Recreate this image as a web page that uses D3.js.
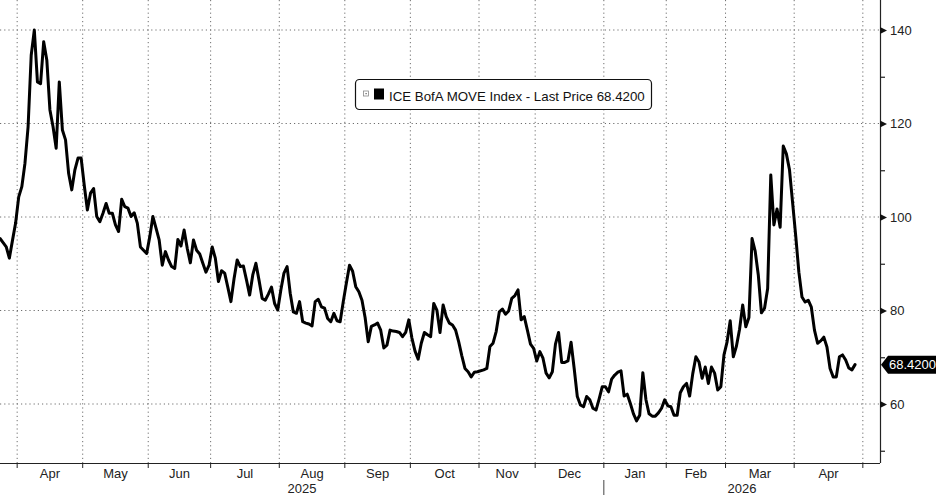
<!DOCTYPE html>
<html><head><meta charset="utf-8">
<script src="https://cdn.jsdelivr.net/npm/d3@7"></script>
<style>body{margin:0;background:#fff;overflow:hidden}</style>
</head><body>
<svg id="c" width="936" height="495"></svg>
<script>
// ---------- DATA ----------
const seriesName = "ICE BofA MOVE Index - Last Price";
const lastValue = 68.42;
const dates = [
"2025-03-24","2025-03-25","2025-03-26","2025-03-27","2025-03-28","2025-03-31",
"2025-04-01","2025-04-02","2025-04-03","2025-04-04","2025-04-07","2025-04-08","2025-04-09","2025-04-10","2025-04-11",
"2025-04-14","2025-04-15","2025-04-16","2025-04-17","2025-04-21","2025-04-22","2025-04-23","2025-04-24","2025-04-25",
"2025-04-28","2025-04-29","2025-04-30","2025-05-01","2025-05-02","2025-05-05","2025-05-06","2025-05-07","2025-05-08","2025-05-09",
"2025-05-12","2025-05-13","2025-05-14","2025-05-15","2025-05-16","2025-05-19","2025-05-20","2025-05-21","2025-05-22","2025-05-23",
"2025-05-27","2025-05-28","2025-05-29","2025-05-30","2025-06-02","2025-06-03","2025-06-04","2025-06-05","2025-06-06",
"2025-06-09","2025-06-10","2025-06-11","2025-06-12","2025-06-13","2025-06-16","2025-06-17","2025-06-18","2025-06-20",
"2025-06-23","2025-06-24","2025-06-25","2025-06-26","2025-06-27","2025-06-30","2025-07-01","2025-07-02","2025-07-03",
"2025-07-07","2025-07-08","2025-07-09","2025-07-10","2025-07-11","2025-07-14","2025-07-15","2025-07-16","2025-07-17","2025-07-18",
"2025-07-21","2025-07-22","2025-07-23","2025-07-24","2025-07-25","2025-07-28","2025-07-29","2025-07-30","2025-07-31","2025-08-01",
"2025-08-04","2025-08-05","2025-08-06","2025-08-07","2025-08-08","2025-08-11","2025-08-12","2025-08-13","2025-08-14","2025-08-15",
"2025-08-18","2025-08-19","2025-08-20","2025-08-21","2025-08-22","2025-08-25","2025-08-26","2025-08-27","2025-08-28","2025-08-29",
"2025-09-02","2025-09-03","2025-09-04","2025-09-05","2025-09-08","2025-09-09","2025-09-10","2025-09-11","2025-09-12",
"2025-09-15","2025-09-16","2025-09-17","2025-09-18","2025-09-19","2025-09-22","2025-09-23","2025-09-24","2025-09-25","2025-09-26",
"2025-09-29","2025-09-30","2025-10-01","2025-10-02","2025-10-03","2025-10-06","2025-10-07","2025-10-08","2025-10-09","2025-10-10",
"2025-10-14","2025-10-15","2025-10-16","2025-10-17","2025-10-20","2025-10-21","2025-10-22","2025-10-23","2025-10-24",
"2025-10-27","2025-10-28","2025-10-29","2025-10-30","2025-10-31",
"2025-11-04","2025-11-05","2025-11-06","2025-11-07","2025-11-10","2025-11-12","2025-11-13","2025-11-14",
"2025-11-17","2025-11-18","2025-11-19","2025-11-20","2025-11-21","2025-11-24","2025-11-25","2025-11-26","2025-11-28",
"2025-12-01","2025-12-02","2025-12-03","2025-12-04","2025-12-05","2025-12-08","2025-12-09","2025-12-10","2025-12-11","2025-12-12",
"2025-12-15","2025-12-16","2025-12-17","2025-12-18","2025-12-19","2025-12-22","2025-12-23","2025-12-24","2025-12-26",
"2025-12-29","2025-12-30","2025-12-31","2026-01-02","2026-01-05","2026-01-06","2026-01-07","2026-01-08","2026-01-09",
"2026-01-12","2026-01-13","2026-01-14","2026-01-15","2026-01-16","2026-01-20","2026-01-21","2026-01-22","2026-01-23",
"2026-01-26","2026-01-27","2026-01-28","2026-01-29","2026-01-30","2026-02-02","2026-02-03","2026-02-04","2026-02-05","2026-02-06",
"2026-02-09","2026-02-10","2026-02-11","2026-02-12","2026-02-13","2026-02-17","2026-02-18","2026-02-19","2026-02-20",
"2026-02-23","2026-02-24","2026-02-25","2026-02-26","2026-02-27","2026-03-02","2026-03-03","2026-03-04","2026-03-05","2026-03-06",
"2026-03-09","2026-03-10","2026-03-11","2026-03-12","2026-03-13","2026-03-16","2026-03-17","2026-03-18","2026-03-19","2026-03-20",
"2026-03-23","2026-03-24","2026-03-25","2026-03-26","2026-03-27","2026-03-30","2026-03-31","2026-04-01","2026-04-02","2026-04-03",
"2026-04-06","2026-04-07","2026-04-08","2026-04-09","2026-04-10","2026-04-13","2026-04-14","2026-04-15","2026-04-16","2026-04-17",
"2026-04-20","2026-04-21","2026-04-22","2026-04-23","2026-04-24","2026-04-27","2026-04-28"
];
const values = [
95.4,94.5,93.6,91.2,95.0,98.7,
104.3,106.5,111.5,119.3,134.6,140.0,128.9,128.5,137.5,
133.6,122.9,119.3,114.7,128.9,118.6,116.5,109.3,105.8,
110.1,112.6,112.6,106.8,101.5,105.1,106.1,100.1,99.0,100.8,
102.9,100.8,100.8,98.3,96.9,103.8,102.2,101.9,100.1,100.9,
98.7,93.6,92.9,92.2,95.8,100.1,97.6,95.1,89.7,
92.6,90.8,89.4,89.0,95.2,93.8,97.2,93.3,90.2,
95.1,92.9,92.1,90.1,88.2,89.7,93.6,91.2,86.2,
88.5,88.0,85.0,81.9,86.8,90.8,89.4,89.5,86.5,83.3,
87.6,90.1,86.5,82.6,82.2,83.5,85.0,81.5,80.1,84.4,
88.0,89.4,83.7,79.7,79.4,81.9,77.6,77.3,77.1,76.7,
81.9,82.4,80.8,80.5,78.3,77.6,79.4,77.8,77.6,81.9,
85.9,89.7,88.4,85.1,84.0,82.2,78.5,73.3,76.6,
76.9,77.3,75.8,72.0,72.6,75.8,75.6,75.5,75.3,74.4,
75.3,78.0,74.1,71.3,69.6,73.0,75.3,74.8,74.4,81.5,
80.1,75.3,81.2,78.7,77.3,76.9,75.8,73.3,70.3,
67.6,66.9,65.8,66.8,66.9,
67.3,67.6,72.3,73.0,75.5,79.7,80.3,79.2,
79.9,82.6,83.2,84.4,78.0,78.7,75.8,72.8,71.9,
69.2,71.2,69.8,66.6,65.6,66.9,72.8,75.3,68.9,68.9,
69.2,73.2,67.6,61.6,59.8,59.4,61.6,60.9,59.1,
58.7,61.1,63.7,63.7,62.6,65.3,66.2,66.8,67.1,
61.7,62.1,60.1,57.9,56.4,57.6,66.7,60.9,57.9,
57.4,57.4,58.1,59.1,60.9,59.6,59.4,57.6,57.6,62.4,
63.7,64.4,61.7,66.5,70.1,69.0,65.5,67.9,64.4,
67.9,66.6,63.0,63.7,70.5,73.3,77.8,70.1,72.4,76.0,
81.2,76.5,78.5,95.4,92.7,87.6,79.5,80.5,84.7,109.0,
98.3,101.7,97.8,115.2,113.5,110.1,103.0,95.9,88.2,82.9,
81.8,82.2,80.7,75.8,73.0,73.5,74.3,72.2,67.6,65.8,
65.8,70.1,70.5,69.4,67.7,67.3,68.42
];
// market holidays (no trading-day slot on the axis)
const holidays = ["2025-04-18","2025-05-26","2025-06-19","2025-07-04","2025-09-01","2025-10-13",
  "2025-11-11","2025-11-27","2025-12-25","2026-01-01","2026-01-19","2026-02-16"];
const monthLabels = ["Apr","May","Jun","Jul","Aug","Sep","Oct","Nov","Dec","Jan","Feb","Mar","Apr"];
const monthStarts = ["2025-04-01","2025-05-01","2025-06-01","2025-07-01","2025-08-01","2025-09-01","2025-10-01",
  "2025-11-01","2025-12-01","2026-01-01","2026-02-01","2026-03-01","2026-04-01","2026-05-01"];
const yearLabels = ["2025","2026"];
const yMajor = [60,80,100,120,140];
const yMinor = [50,70,90,110,130];

// ---------- SETUP ----------
const svg = d3.select("#c");
const parse = d3.timeParse("%Y-%m-%d"), fmt = d3.timeFormat("%Y-%m-%d");
const hol = new Set(holidays);
const tradingDays = d3.timeDay.range(parse("2025-03-24"), parse("2026-05-09"))
  .filter(d => d.getDay() !== 0 && d.getDay() !== 6 && !hol.has(fmt(d)));
const tIndex = new Map(tradingDays.map((d, i) => [fmt(d), i]));
const firstIndexOnOrAfter = s => { const t = parse(s); return tradingDays.findIndex(d => d >= t); };

const plotL = 0, plotR = 880, plotT = 0, plotB = 463;
const x = d3.scaleLinear().domain([0, 282]).range([plotL, plotR]);
const y = d3.scaleLinear().domain([60, 140]).range([404, 30]);

const data = dates.map((d, i) => ({ i: tIndex.get(d), v: values[i] }));

const gridColor = "#6e6e6e";
const dash = "1.2,3";
const monthX = monthStarts.map(s => x(firstIndexOnOrAfter(s) - 0.5));

// grid
const g = svg.append("g");
g.selectAll("line.hg").data(yMajor).join("line")
  .attr("x1", plotL).attr("x2", plotR).attr("y1", d => y(d)).attr("y2", d => y(d))
  .attr("stroke", gridColor).attr("stroke-width", 1).attr("stroke-dasharray", dash);
g.selectAll("line.vg").data(monthX).join("line")
  .attr("x1", d => d).attr("x2", d => d).attr("y1", plotT).attr("y2", plotB)
  .attr("stroke", gridColor).attr("stroke-width", 1).attr("stroke-dasharray", dash);

// legend
const lg = svg.append("g");
lg.append("rect").attr("x", 355.5).attr("y", 79.5).attr("width", 296).attr("height", 30).attr("rx", 4)
  .attr("fill", "#fff").attr("stroke", "#111").attr("stroke-width", 1.2);
lg.append("rect").attr("x", 363.5).attr("y", 91).attr("width", 5).attr("height", 5)
  .attr("fill", "#fff").attr("stroke", "#888").attr("stroke-width", 0.8);
lg.append("rect").attr("x", 365.5).attr("y", 93).attr("width", 1.2).attr("height", 1.2).attr("fill", "#555");
lg.append("rect").attr("x", 374).attr("y", 88.5).attr("width", 10).attr("height", 11).attr("fill", "#000");
lg.append("text").attr("x", 389).attr("y", 101)
  .attr("font-family", "Liberation Sans, Arial, sans-serif").attr("font-size", 13.3).attr("fill", "#111")
  .text(`${seriesName} ${d3.format(".4f")(lastValue)}`);

// line
svg.append("defs").append("clipPath").attr("id", "clip").append("rect")
  .attr("x", plotL).attr("y", plotT).attr("width", plotR - plotL).attr("height", plotB - plotT);
const line = d3.line().x(d => x(d.i)).y(d => y(d.v));
svg.append("path").datum(data).attr("clip-path", "url(#clip)")
  .attr("d", line).attr("fill", "none").attr("stroke", "#000").attr("stroke-width", 3)
  .attr("stroke-linejoin", "round").attr("stroke-linecap", "round");

// axes lines
svg.append("line").attr("x1", plotL).attr("x2", plotR).attr("y1", plotB + 0.5).attr("y2", plotB + 0.5)
  .attr("stroke", "#222").attr("stroke-width", 1.2);
svg.append("line").attr("x1", plotR + 0.5).attr("x2", plotR + 0.5).attr("y1", plotT).attr("y2", plotB)
  .attr("stroke", "#222").attr("stroke-width", 1.2);

// y axis (right)
const font = "Liberation Sans, Arial, sans-serif";
const yAxis = d3.axisRight(y).tickValues(yMajor).tickSize(0).tickPadding(10).tickFormat(d3.format("d"));
const ya = svg.append("g").attr("transform", `translate(${plotR},0)`).call(yAxis);
ya.select(".domain").remove();
ya.selectAll("text").attr("font-family", font).attr("font-size", 13).attr("fill", "#222");
ya.selectAll(".tick").append("path").attr("d", "M0,-3.5L7,0L0,3.5Z").attr("fill", "#111");
const yMinorAxis = d3.axisRight(y).tickValues(yMinor).tickSize(5).tickFormat("");
const ym = svg.append("g").attr("transform", `translate(${plotR},0)`).call(yMinorAxis);
ym.select(".domain").remove();
ym.selectAll("line").attr("stroke", "#222").attr("stroke-width", 1.2);

// x ticks & labels
svg.selectAll("line.xt").data(monthX).join("line")
  .attr("x1", d => d).attr("x2", d => d).attr("y1", plotB).attr("y2", plotB + 5)
  .attr("stroke", "#222").attr("stroke-width", 1);
svg.selectAll("text.mx").data(monthLabels).join("text")
  .attr("x", (d, i) => (monthX[i] + monthX[i + 1]) / 2).attr("y", 478)
  .attr("text-anchor", "middle").attr("font-family", font).attr("font-size", 13).attr("fill", "#222")
  .text(d => d);
const janX = monthX[9];
const yearCenters = [(plotL + janX) / 2, (janX + plotR) / 2];
svg.selectAll("text.yr").data(yearLabels).join("text")
  .attr("x", (d, i) => yearCenters[i]).attr("y", 493)
  .attr("text-anchor", "middle").attr("font-family", font).attr("font-size", 13).attr("fill", "#222")
  .text(d => d);
svg.append("line").attr("x1", janX).attr("x2", janX).attr("y1", 480).attr("y2", 495)
  .attr("stroke", "#444").attr("stroke-width", 1);

// last price tag
const ly = y(lastValue);
svg.append("path").attr("d", `M${plotR + 1},${ly} L${plotR + 8},${ly - 9} L936,${ly - 9} L936,${ly + 9} L${plotR + 8},${ly + 9} Z`)
  .attr("fill", "#000");
svg.append("text").attr("x", plotR + 9).attr("y", ly + 4.6)
  .attr("font-family", font).attr("font-size", 13).attr("fill", "#fff")
  .text(d3.format(".4f")(lastValue));
</script>
</body></html>
